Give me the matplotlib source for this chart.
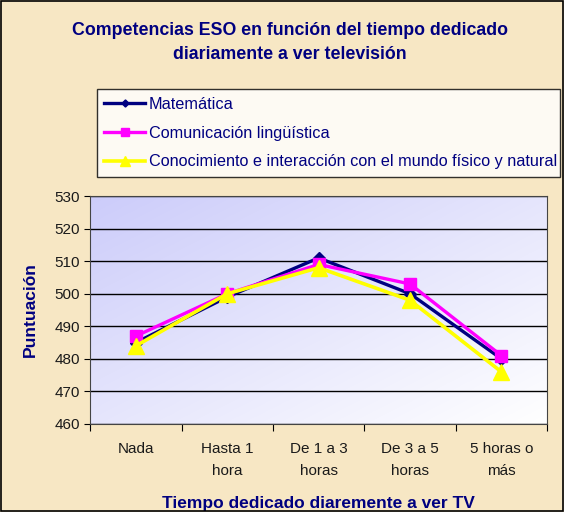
import numpy as np
import matplotlib.pyplot as plt
from matplotlib.patches import Rectangle

plt.rcParams['font.family'] = ['Liberation Sans', 'DejaVu Sans']

# data
categorias = ['Nada', 'Hasta 1\nhora', 'De 1 a 3\nhoras', 'De 3 a 5\nhoras', '5 horas o\nmás']
matematica = [485, 499, 511, 500, 480]
comunicacion = [487, 500, 509, 503, 481]
conocimiento = [484, 500, 508, 498, 476]
series_nombres = ['Matemática', 'Comunicación lingüística',
                  'Conocimiento e interacción con el mundo físico y natural']

navy = '#000080'
fig = plt.figure(figsize=(5.64, 5.12), dpi=100)
fig.patch.set_facecolor('#f7e7c4')
fig.patches.append(Rectangle((0.002, 0.002), 0.996, 0.996, transform=fig.transFigure,
                             fill=False, edgecolor='black', linewidth=1.2))

ax = fig.add_axes([0.160, 0.172, 0.810, 0.445])

# gradient background (lavender top-left -> white bottom-right)
yy, xx = np.mgrid[0:1:200j, 0:1:200j]
t = (xx + (1 - yy)) / 2.0
c0 = np.array([0.80, 0.80, 0.98])
c1 = np.array([1.0, 1.0, 1.0])
img = c0[None, None, :] * (1 - t[..., None]) + c1[None, None, :] * t[..., None]
ax.imshow(img, extent=[0, 1, 0, 1], transform=ax.transAxes, aspect='auto',
          origin='lower', zorder=0)

x = np.arange(len(categorias))
ax.plot(x, matematica, color=navy, lw=2.4, marker='D', ms=6, zorder=3)
ax.plot(x, comunicacion, color='#ff00ff', lw=2.4, marker='s', ms=9, zorder=4)
ax.plot(x, conocimiento, color='#ffff00', lw=2.6, marker='^', ms=12, zorder=5)

ax.set_xlim(-0.5, len(categorias) - 0.5)
ax.set_ylim(460, 530)
ax.set_yticks(np.arange(460, 531, 10))
ax.yaxis.grid(True, color='black', lw=1.0, zorder=1)
ax.set_axisbelow(True)
ax.set_xticks(np.arange(-0.5, len(categorias), 1.0))
ax.set_xticklabels([])
ax.set_xticks(x, minor=True)
ax.set_xticklabels(categorias, minor=True, fontsize=11, color='#1a1a1a', linespacing=1.75)
ax.tick_params(axis='x', which='minor', length=0, pad=13)
ax.tick_params(axis='x', which='major', length=5, color='black')
ax.tick_params(axis='y', labelsize=11, length=4, labelcolor='#1a1a1a')
for s in ax.spines.values():
    s.set_color('#444444')

ax.set_ylabel('Puntuación', fontsize=12.5, fontweight='bold', color=navy, labelpad=12)
ax.set_xlabel('Tiempo dedicado diaremente a ver TV', fontsize=12.5, fontweight='bold',
              color=navy, labelpad=13)

fig.text(0.514, 0.917, 'Competencias ESO en función del tiempo dedicado\ndiariamente a ver televisión',
         ha='center', va='center', fontsize=12.8, fontweight='bold', color=navy,
         linespacing=1.6)

handles = ax.get_lines()
leg = fig.legend(handles, series_nombres, loc='center left',
                 bbox_to_anchor=(0.172, 0.652, 0.821, 0.176), mode='expand',
                 fontsize=11.7, frameon=True, fancybox=False, labelspacing=0.85,
                 handlelength=2.5, handletextpad=0.25, borderaxespad=0,
                 borderpad=0.45, markerscale=0.6)
leg.get_frame().set_edgecolor('black')
leg.get_frame().set_facecolor('white')
leg.get_frame().set_linewidth(1.0)
for txt in leg.get_texts():
    txt.set_color(navy)

fig.savefig('out.png', dpi=100, facecolor=fig.get_facecolor())
